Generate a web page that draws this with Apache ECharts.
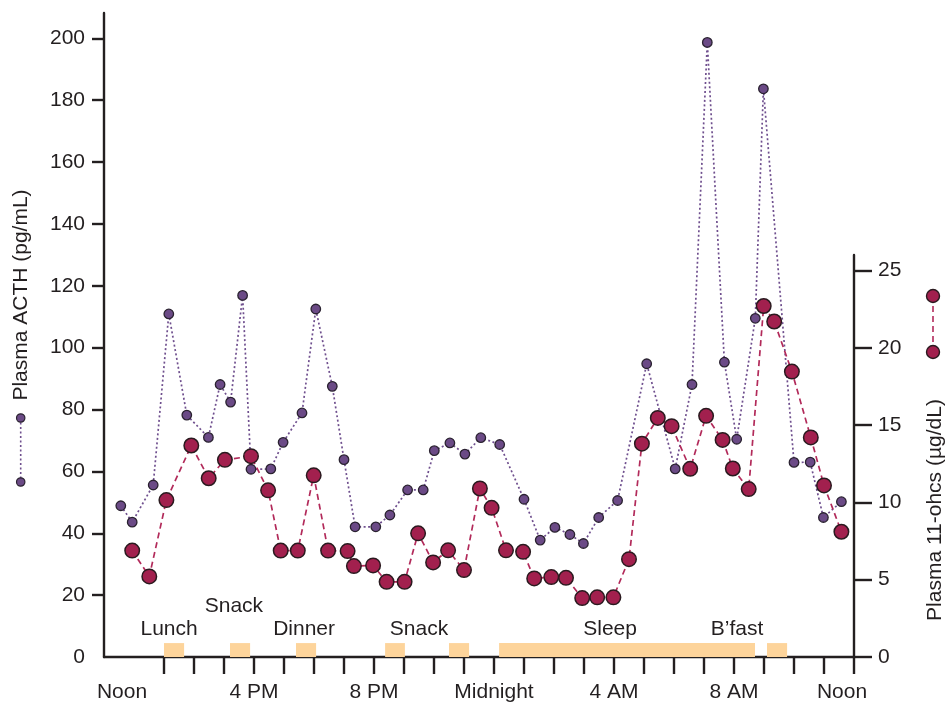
<!DOCTYPE html>
<html>
<head>
<meta charset="utf-8">
<script src="https://cdn.jsdelivr.net/npm/echarts@6/dist/echarts.min.js"></script>
<style>
html,body{margin:0;padding:0;background:#fff;}
#chart{width:946px;height:703px;}
</style>
</head>
<body>
<div id="chart"></div>
<script>
// ---- Data (hours after noon; -1 = 11 AM, 24 = noon next day) ----
const acthHours = [-0.44, -0.06, 0.64, 1.16, 1.76, 2.48, 2.87, 3.22, 3.62, 3.9, 4.56, 4.97, 5.6, 6.06, 6.61, 7.0, 7.37, 8.06, 8.53, 9.12, 9.64, 10.01, 10.53, 11.03, 11.56, 12.19, 13.0, 13.54, 14.03, 14.53, 14.98, 15.49, 16.12, 17.09, 18.04, 18.6, 19.11, 19.68, 20.09, 20.71, 20.98, 22.0, 22.54, 22.98, 23.58];
const acthValues = [48.9, 43.6, 55.6, 110.9, 78.2, 71.0, 88.1, 82.4, 116.9, 60.7, 60.8, 69.4, 78.9, 112.5, 87.5, 63.8, 42.1, 42.1, 45.9, 54.0, 54.0, 66.7, 69.2, 65.6, 70.9, 68.7, 51.0, 37.8, 41.9, 39.6, 36.7, 45.1, 50.6, 94.8, 60.8, 88.1, 198.7, 95.3, 70.4, 109.5, 183.7, 62.9, 63.0, 45.1, 50.2];

const cortHours = [-0.06, 0.51, 1.08, 1.91, 2.49, 3.03, 3.9, 4.47, 4.89, 5.46, 5.99, 6.47, 7.12, 7.33, 7.97, 8.42, 9.02, 9.47, 9.97, 10.47, 11.0, 11.53, 11.92, 12.4, 12.97, 13.34, 13.91, 14.4, 14.94, 15.44, 15.98, 16.5, 16.93, 17.46, 17.92, 18.54, 19.07, 19.62, 19.96, 20.49, 20.99, 21.34, 21.93, 22.56, 23.0, 23.58];
const cortValues = [6.88, 5.21, 10.15, 13.68, 11.56, 12.75, 12.99, 10.78, 6.88, 6.88, 11.75, 6.88, 6.85, 5.88, 5.92, 4.86, 4.86, 8.0, 6.12, 6.9, 5.62, 10.9, 9.65, 6.9, 6.8, 5.08, 5.17, 5.12, 3.81, 3.86, 3.86, 6.33, 13.8, 15.46, 14.93, 12.17, 15.6, 14.04, 12.19, 10.86, 22.7, 21.7, 18.46, 14.2, 11.1, 8.1];

const eventStarts = [1.0, 3.2, 5.4, 8.37, 10.5, 12.17, 21.1];
const eventEnds   = [1.67, 3.87, 6.07, 9.03, 11.17, 20.7, 21.77];

const eventLabels = ['Lunch', 'Snack', 'Dinner', 'Snack', 'Sleep', 'B\u2019fast'];
const eventLabelHours = [1.17, 3.33, 5.67, 9.5, 15.87, 20.1];
const eventLabelLevels = [9.0, 16.5, 9.0, 9.0, 9.0, 9.0];

const xTickHours = [1,2,3,4,5,6,7,8,9,10,11,12,13,14,15,16,17,18,19,20,21,22,23,24];
const xLabelHours = [0, 4, 8, 12, 16, 20, 24];
const xLabelTexts = ['Noon', '4 PM', '8 PM', 'Midnight', '4 AM', '8 AM', 'Noon'];
const leftTicks = [0,20,40,60,80,100,120,140,160,180,200];
const rightTicks = [0,5,10,15,20,25];

const INK = '#231f20';
const FONT = '"Liberation Sans", Arial, Helvetica, sans-serif';
const FS = 21;

const chart = echarts.init(document.getElementById('chart'), null, {renderer: 'canvas'});

const eventBarData = eventStarts.map((s, i) => [
  {xAxis: s, yAxis: 0},
  {xAxis: eventEnds[i], yAxis: 4.5}
]);

const option = {
  animation: false,
  backgroundColor: '#fff',
  textStyle: {fontFamily: FONT, color: INK},
  grid: [
    {left: 104, right: 92, top: 13, bottom: 46},
    {left: 104, right: 92, top: 255, bottom: 46}
  ],
  xAxis: [
    {
      type: 'value', gridIndex: 0, min: -1, max: 24,
      axisLine: {show: true, onZero: false, lineStyle: {color: INK, width: 2.4}},
      axisTick: {show: true, customValues: xTickHours, length: 17, lineStyle: {color: INK, width: 2.4}},
      axisLabel: {
        show: true, customValues: xLabelHours, margin: 25,
        fontSize: FS, color: INK, fontFamily: FONT,
        formatter: function (v) {
          const i = xLabelHours.indexOf(v);
          const t = i >= 0 ? xLabelTexts[i] : '';
          return t === 'Noon' ? '{n|' + t + '}' : t;
        },
        rich: {n: {fontSize: FS, color: INK, fontFamily: FONT, padding: [0, 24, 0, 0]}}
      },
      splitLine: {show: false}
    },
    {
      type: 'value', gridIndex: 1, min: -1, max: 24, show: false,
      splitLine: {show: false}
    }
  ],
  yAxis: [
    {
      type: 'value', gridIndex: 0, min: 0, max: 208.2, position: 'left',
      axisLine: {show: true, onZero: false, lineStyle: {color: INK, width: 2.4}},
      axisTick: {show: true, customValues: leftTicks.filter(v => v > 0), length: 12, lineStyle: {color: INK, width: 2.4}},
      axisLabel: {show: true, customValues: leftTicks, margin: 19, fontSize: FS, color: INK, fontFamily: FONT},
      splitLine: {show: false}
    },
    {
      type: 'value', gridIndex: 1, min: 0, max: 26, position: 'right',
      axisLine: {show: true, onZero: false, lineStyle: {color: INK, width: 2.4}},
      axisTick: {show: true, customValues: rightTicks, length: 18, lineStyle: {color: INK, width: 2.4}},
      axisLabel: {show: true, customValues: rightTicks, margin: 24, fontSize: FS, color: INK, fontFamily: FONT, align: 'left'},
      splitLine: {show: false}
    }
  ],
  series: [
    {
      name: 'events',
      type: 'scatter',
      xAxisIndex: 0, yAxisIndex: 0,
      symbolSize: 0,
      itemStyle: {opacity: 1},
      data: eventLabelHours.map((h, i) => ({value: [h, eventLabelLevels[i]], name: eventLabels[i]})),
      label: {
        show: true, position: 'inside', formatter: '{b}',
        fontSize: FS, color: INK, fontFamily: FONT, opacity: 1
      },
      markArea: {
        silent: true,
        itemStyle: {color: '#fdd49b', opacity: 1},
        data: eventBarData
      },
      z: 1
    },
    {
      name: 'Plasma ACTH (pg/mL)',
      type: 'line',
      xAxisIndex: 0, yAxisIndex: 0,
      data: acthHours.map((h, i) => [h, acthValues[i]]),
      symbol: 'circle', symbolSize: 9.5,
      itemStyle: {color: '#6b4a86', borderColor: '#2a2230', borderWidth: 1.3},
      lineStyle: {color: '#6f4f8e', width: 1.7, type: [2, 2.5]},
      z: 3
    },
    {
      name: 'Plasma 11-ohcs (\u00b5g/dL)',
      type: 'line',
      xAxisIndex: 1, yAxisIndex: 1,
      data: cortHours.map((h, i) => [h, cortValues[i]]),
      symbol: 'circle', symbolSize: 14.5,
      itemStyle: {color: '#a2204e', borderColor: '#2a1a1f', borderWidth: 1.5},
      lineStyle: {color: '#b22a5a', width: 1.7, type: [6, 4]},
      z: 4
    }
  ],
  graphic: [
    {
      type: 'text', x: 21, y: 295, rotation: Math.PI / 2,
      style: {text: 'Plasma ACTH (pg/mL)', fontSize: FS, fontFamily: FONT, fill: INK, align: 'center', verticalAlign: 'middle'}
    },
    {
      type: 'text', x: 935, y: 510, rotation: Math.PI / 2,
      style: {text: 'Plasma 11-ohcs (\u00b5g/dL)', fontSize: FS, fontFamily: FONT, fill: INK, align: 'center', verticalAlign: 'middle'}
    },
    {
      type: 'line', shape: {x1: 20.7, y1: 418, x2: 20.7, y2: 482},
      style: {stroke: '#6f4f8e', lineWidth: 1.6, lineDash: [2, 2.5]}
    },
    {type: 'circle', shape: {cx: 20.7, cy: 418, r: 4.2}, style: {fill: '#6b4a86', stroke: '#2a2230', lineWidth: 1.2}},
    {type: 'circle', shape: {cx: 20.7, cy: 482, r: 4.2}, style: {fill: '#6b4a86', stroke: '#2a2230', lineWidth: 1.2}},
    {
      type: 'line', shape: {x1: 933, y1: 296, x2: 933, y2: 352},
      style: {stroke: '#b22a5a', lineWidth: 1.6, lineDash: [6, 4]}
    },
    {type: 'circle', shape: {cx: 933, cy: 296, r: 6.5}, style: {fill: '#a2204e', stroke: '#2a1a1f', lineWidth: 1.4}},
    {type: 'circle', shape: {cx: 933, cy: 352, r: 6.5}, style: {fill: '#a2204e', stroke: '#2a1a1f', lineWidth: 1.4}}
  ]
};

chart.setOption(option);
</script>
</body>
</html>
